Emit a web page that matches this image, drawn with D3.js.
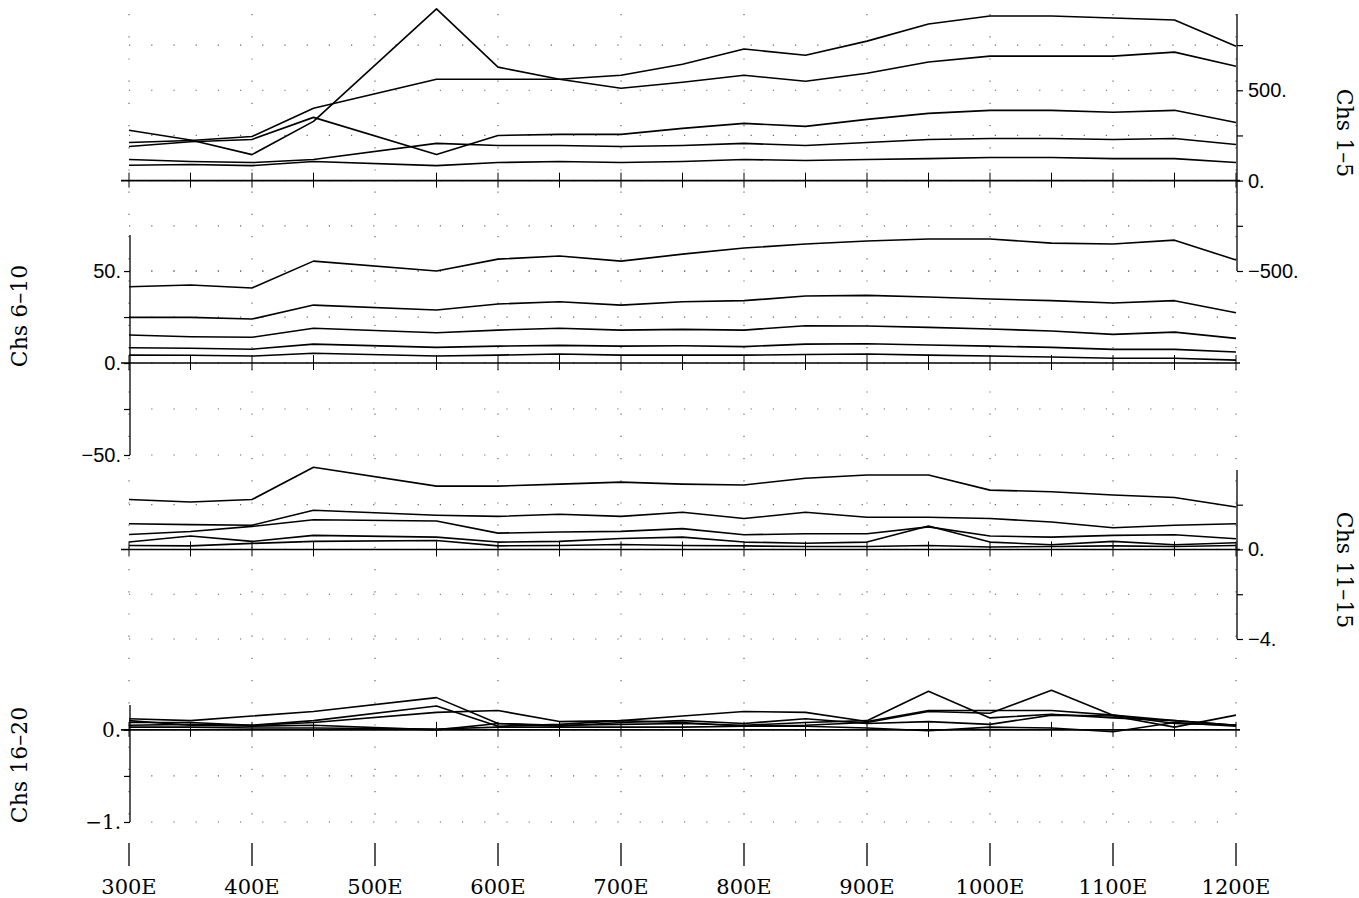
<!DOCTYPE html>
<html>
<head>
<meta charset="utf-8">
<script src="https://cdn.jsdelivr.net/npm/d3@7"></script>
<style>
  body { margin: 0; background: #fff; }
  svg { display: block; }
</style>
</head>
<body>
<svg id="chart" width="1359" height="898"></svg>
<script>
// Sampled longitudes (degrees E) shared by every channel
const longitudes = [300, 350, 400, 450, 550, 600, 650, 700, 750, 800, 850, 900, 950, 1000, 1050, 1100, 1150, 1200];
const xTickValues = [300, 400, 500, 600, 700, 800, 900, 1000, 1100, 1200];
const xTickLabels = ["300E", "400E", "500E", "600E", "700E", "800E", "900E", "1000E", "1100E", "1200E"];

// Channels 1–5
const ch01 = [279, 225, 144, 328, 950, 628, 561, 511, 544, 583, 550, 594, 656, 689, 689, 689, 711, 633];
const ch02 = [211, 222, 244, 400, 561, 561, 561, 583, 644, 728, 694, 772, 867, 911, 911, 900, 889, 744];
const ch03 = [189, 215, 228, 350, 144, 250, 256, 256, 289, 317, 300, 339, 372, 389, 389, 378, 389, 322];
const ch04 = [117, 106, 100, 117, 206, 194, 194, 189, 194, 206, 194, 211, 228, 233, 233, 228, 233, 200];
const ch05 = [85, 89, 83, 106, 83, 100, 106, 100, 106, 117, 111, 117, 122, 128, 128, 122, 122, 100];

// Channels 6–10
const ch06 = [41.5, 42.4, 40.8, 55.4, 50.0, 56.5, 58.2, 55.4, 59.2, 62.5, 64.7, 66.3, 67.4, 67.4, 65.2, 64.7, 66.8, 56.0];
const ch07 = [24.8, 24.8, 23.9, 31.5, 28.8, 32.1, 33.3, 31.5, 33.3, 33.9, 36.4, 36.8, 35.9, 34.8, 33.9, 32.6, 33.9, 27.3];
const ch08 = [15.2, 14.3, 14.0, 18.9, 16.5, 17.9, 18.9, 17.9, 18.3, 17.9, 20.3, 20.1, 19.4, 18.5, 17.4, 15.6, 16.8, 13.4];
const ch09 = [8.3, 8.0, 7.5, 10.3, 8.5, 9.2, 9.6, 9.2, 9.4, 8.9, 10.3, 10.5, 9.8, 9.2, 8.5, 7.4, 7.4, 6.0];
const ch10 = [4.3, 4.2, 3.8, 5.3, 3.8, 4.3, 4.9, 4.3, 4.3, 4.3, 4.6, 4.9, 4.3, 3.8, 3.3, 2.6, 2.6, 1.6];

// Channels 11–15
const ch11 = [2.23, 2.12, 2.23, 3.67, 2.83, 2.83, 2.92, 3.01, 2.92, 2.88, 3.18, 3.33, 3.33, 2.65, 2.58, 2.43, 2.32, 1.90];
const ch12 = [1.15, 1.11, 1.08, 1.75, 1.53, 1.48, 1.57, 1.48, 1.66, 1.38, 1.66, 1.44, 1.44, 1.38, 1.23, 0.97, 1.08, 1.15];
const ch13 = [0.67, 0.80, 1.03, 1.33, 1.27, 0.73, 0.78, 0.81, 0.93, 0.66, 0.70, 0.70, 1.01, 0.60, 0.55, 0.63, 0.66, 0.48];
const ch14 = [0.33, 0.60, 0.36, 0.63, 0.55, 0.33, 0.36, 0.49, 0.55, 0.33, 0.28, 0.33, 1.05, 0.33, 0.21, 0.36, 0.21, 0.30];
const ch15 = [0.18, 0.16, 0.27, 0.36, 0.40, 0.16, 0.18, 0.22, 0.18, 0.16, 0.13, 0.13, 0.18, 0.11, 0.13, 0.16, 0.13, 0.18];

// Channels 16–20
const ch16 = [0.12, 0.10, 0.15, 0.20, 0.35, 0.07, 0.05, 0.06, 0.07, 0.05, 0.08, 0.10, 0.42, 0.13, 0.17, 0.13, 0.10, 0.05];
const ch17 = [0.05, 0.06, 0.05, 0.10, 0.26, 0.04, 0.06, 0.10, 0.08, 0.04, 0.05, 0.08, 0.20, 0.18, 0.43, 0.16, 0.07, 0.05];
const ch18 = [0.08, 0.08, 0.05, 0.08, 0.19, 0.21, 0.09, 0.10, 0.15, 0.20, 0.19, 0.09, 0.21, 0.21, 0.21, 0.16, 0.10, 0.05];
const ch19 = [0.10, 0.05, 0.04, 0.05, 0.00, 0.07, 0.04, 0.08, 0.10, 0.07, 0.12, 0.07, 0.09, 0.06, 0.16, 0.15, 0.03, 0.16];
const ch20 = [0.03, 0.03, 0.02, 0.02, 0.01, 0.03, 0.03, 0.03, 0.03, 0.04, 0.04, 0.02, -0.01, 0.03, 0.02, -0.02, 0.08, 0.04];

// Vertical axis extents, tick values and labelled ticks of each strip
const limits1 = [-500, 922], ticks1 = [-500, -250, 0, 250, 500, 750], labels1 = [-500, 0, 500];
const limits2 = [-50, 69.6], ticks2 = [-50, -25, 0, 25, 50], labels2 = [-50, 0, 50];
const limits3 = [-4, 3.55], ticks3 = [-4, -2, 0, 2], labels3 = [-4, 0];
const limits4 = [-1, 0.27], ticks4 = [-1, -0.5, 0], labels4 = [-1, 0];
const titles = ["Chs 1\u20135", "Chs 6\u201310", "Chs 11\u201315", "Chs 16\u201320"];

const panels = [
  { series: [ch01, ch02, ch03, ch04, ch05], limits: limits1, ticks: ticks1, labels: labels1,
    px: [271, 14], side: "right", font: "'Liberation Sans', Arial, sans-serif", title: titles[0], titleY: 133 },
  { series: [ch06, ch07, ch08, ch09, ch10], limits: limits2, ticks: ticks2, labels: labels2,
    px: [455, 235], side: "left", font: "'Liberation Sans', Arial, sans-serif", title: titles[1], titleY: 316 },
  { series: [ch11, ch12, ch13, ch14, ch15], limits: limits3, ticks: ticks3, labels: labels3,
    px: [639, 470], side: "right", font: "'Liberation Sans', Arial, sans-serif", title: titles[2], titleY: 570 },
  { series: [ch16, ch17, ch18, ch19, ch20], limits: limits4, ticks: ticks4, labels: labels4,
    px: [822, 705], side: "left", font: "'DejaVu Serif', serif", title: titles[3], titleY: 765 }
];

const svg = d3.select("#chart");
const xLeft = 129, xRight = 1236;
const x = d3.scaleLinear().domain([300, 1200]).range([xLeft, xRight]);

const fmt = v => (v < 0 ? "\u2212" : "") + Math.abs(v) + ".";

const gridLayer = svg.append("g").attr("class", "grid");
const plotLayer = svg.append("g").attr("class", "plot");

// Dotted reference grid: verticals at every labelled longitude
gridLayer.selectAll("line.vgrid")
  .data(xTickValues)
  .join("line")
  .attr("class", "vgrid")
  .attr("x1", d => x(d)).attr("x2", d => x(d))
  .attr("y1", 14).attr("y2", 822)
  .attr("stroke", "#666").attr("stroke-width", 1.2)
  .attr("stroke-dasharray", "1.2 21");

panels.forEach((p, i) => {
  const y = d3.scaleLinear().domain(p.limits).range(p.px);
  const g = plotLayer.append("g").attr("class", "panel panel-" + (i + 1));

  // Dotted horizontals at each tick of this strip
  gridLayer.append("g").selectAll("line")
    .data(p.ticks)
    .join("line")
    .attr("x1", xLeft).attr("x2", xRight)
    .attr("y1", d => y(d)).attr("y2", d => y(d))
    .attr("stroke", "#666").attr("stroke-width", 1.2)
    .attr("stroke-dasharray", "1.2 21");

  // Zero line with a tick at every sampled longitude
  g.append("line")
    .attr("x1", xLeft - 8).attr("x2", xRight + 4)
    .attr("y1", y(0)).attr("y2", y(0))
    .attr("stroke", "#000").attr("stroke-width", 1.6);
  g.append("g").selectAll("line")
    .data(longitudes)
    .join("line")
    .attr("x1", d => x(d)).attr("x2", d => x(d))
    .attr("y1", y(0) - 8).attr("y2", y(0) + 7)
    .attr("stroke", "#000").attr("stroke-width", 1);

  // Channel traces
  const line = d3.line().x((d, k) => x(longitudes[k])).y(d => y(d));
  g.append("g").selectAll("path")
    .data(p.series)
    .join("path")
    .attr("d", d => line(d))
    .attr("fill", "none")
    .attr("stroke", "#000")
    .attr("stroke-width", 1.6)
    .attr("stroke-linejoin", "round");

  // Vertical axis on alternating sides
  const axisX = p.side === "right" ? xRight + 1 : xLeft + 1;
  const axis = (p.side === "right" ? d3.axisRight(y) : d3.axisLeft(y))
    .tickValues(p.ticks)
    .tickSize(6)
    .tickFormat(d => p.labels.includes(d) ? fmt(d) : "");
  const ag = g.append("g")
    .attr("transform", `translate(${axisX},0)`)
    .call(axis);
  ag.select(".domain").attr("stroke", "#000").attr("stroke-width", 1.3)
    .attr("d", `M0,${p.px[1]}V${p.px[0]}`);
  ag.selectAll(".tick line").attr("stroke", "#000").attr("stroke-width", 1.2);
  ag.selectAll(".tick text")
    .attr("font-family", p.font)
    .attr("font-size", 20)
    .attr("fill", "#000")
    .attr("x", p.side === "right" ? 11 : -9);

  // Strip title, rotated along the outer edge
  const tx = p.side === "right" ? 1344 : 19;
  svg.append("text")
    .attr("transform", `translate(${tx},${p.titleY}) rotate(${p.side === "right" ? 90 : -90})`)
    .attr("text-anchor", "middle")
    .attr("dominant-baseline", "central")
    .attr("font-family", "'DejaVu Serif', serif")
    .attr("font-size", 22)
    .attr("fill", "#000")
    .text(p.title);
});

// Longitude axis along the bottom
const xb = svg.append("g").attr("class", "x-axis");
xb.selectAll("line")
  .data(xTickValues)
  .join("line")
  .attr("x1", d => x(d)).attr("x2", d => x(d))
  .attr("y1", 843).attr("y2", 866)
  .attr("stroke", "#000").attr("stroke-width", 1.3);
xb.selectAll("text")
  .data(xTickValues)
  .join("text")
  .attr("x", d => x(d))
  .attr("y", 894)
  .attr("text-anchor", "middle")
  .attr("font-family", "'DejaVu Serif', serif")
  .attr("font-size", 21)
  .attr("fill", "#000")
  .text((d, k) => xTickLabels[k]);
</script>
</body>
</html>
